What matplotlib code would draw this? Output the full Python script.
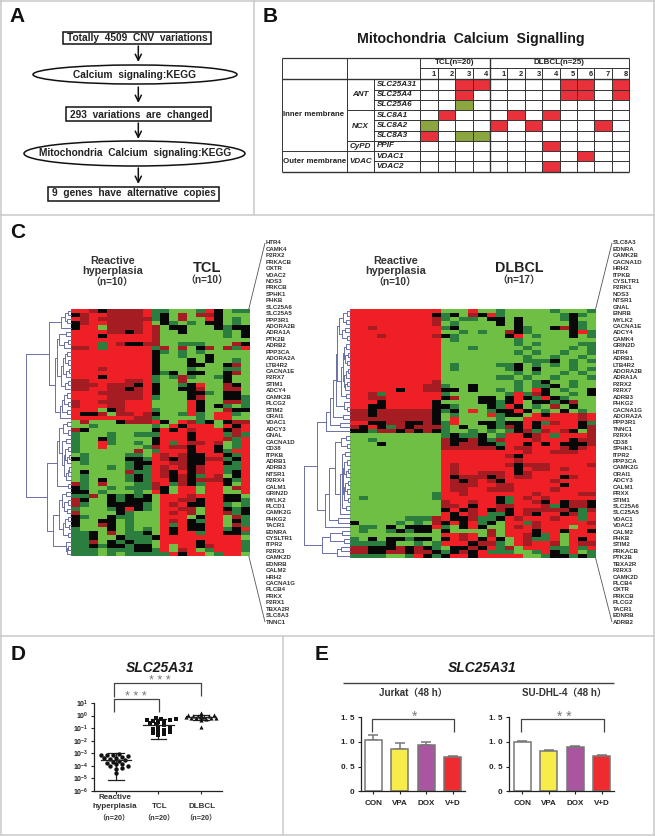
import matplotlib
matplotlib.use('Agg')
import matplotlib.pyplot as plt
import numpy as np
from matplotlib.colors import LinearSegmentedColormap, ListedColormap
from matplotlib.patches import Ellipse, Rectangle

plt.rcParams['font.family'] = ['Liberation Sans', 'Noto Sans CJK SC', 'DejaVu Sans']
plt.rcParams['mathtext.fontset'] = 'custom'
plt.rcParams['mathtext.bf'] = 'Liberation Sans:bold'
plt.rcParams['mathtext.rm'] = 'Liberation Sans:bold'

W, H = 655, 836

# ---------------- data ----------------
flow_steps = ['Totally  4509  CNV  variations', 'Calcium  signaling:KEGG', '293  variations  are  changed',
              'Mitochondria  Calcium  signaling:KEGG', '9  genes  have  alternative  copies']

genes_b = ['SLC25A31', 'SLC25A4', 'SLC25A6', 'SLC8A1', 'SLC8A2', 'SLC8A3', 'PPIF', 'VDAC1', 'VDAC2']
columns_b = ['1', '2', '3', '4', '1', '2', '3', '4', '5', '6', '7', '8']
cells_b = ['..RR....RR.R', '..R.....RR.R', '..G.........', '.R...R.R....', 'G...R.R...R.',
           'R.GG........', '.......R....', '.........R..', '.......R....']

tcl_genes = """HTR4 CAMK4 P2RX2 PRKACB OXTR VDAC2 NOS3 PRKCB SPHK1 PHKB SLC25A6 SLC25A5 PPP3R1 ADORA2B ADRA1A PTK2B ADRB2
PPP3CA ADORA2A LTB4R2 CACNA1E P2RX7 STIM1 ADCY4 CAMK2B PLCG2 STIM2 ORAI1 VDAC1 ADCY3 GNAL CACNA1D CD38 ITPKB ADRB1
ADRB3 NTSR1 P2RX4 CALM1 GRIN2D MYLK2 PLCD1 CAMK2G PHKG2 TACR1 EDNRA CYSLTR1 ITPR2 P2RX3 CAMK2D EDNRB CALM2 HRH2
CACNA1G PLCB4 PRKX P2RX1 TBXA2R SLC8A3 TNNC1""".split()
dlbcl_genes = """SLC8A3 EDNRA CAMK2B CACNA1D HRH2 ITPKB CYSLTR1 P2RK1 NOS3 NTSR1 GNAL EINRB MYLK2 CACNA1E ADCY4 CAMK4 GRIN2D HTR4
ADRB1 LTB4R2 ADORA2B ADRA1A P2RX2 P2RX7 ADRB3 PHKG2 CACNA1G ADORA2A PPP3R1 TNNC1 P2RX4 CD38 SPHK1 ITPR2 PPP3CA CAMK2G
ORAI1 ADCY3 CALM1 PRXX STIM1 SLC25A6 SLC25A5 VDAC1 VDAC2 CALM2 PHKB STIM2 PRKACB PTK2B TBXA2R P2RX3 CAMK2D PLCB4 OXTR
PRKCB PLCG2 TACR1 EDNRB ADRB2""".split()

tcl_rows = """RRrkrrrrR|ggGGGgRkGgg
krRRrrrrR|gkGrGrrkGGG
RrRrrrrrr|gkGrGGRkGgG
krRRrrrrR|GkgGgGkkGgG
kRRGrrrrR|rGkkGGGkgkk
RRRRrrkrR|rGGkGGGGgGk
RRRkRRRRR|rGGGGGGGgGk
RRRRRRRRR|rGGGGGGGGGG
RRRgRrkkr|rGGgggGGGrk
rrRgRRRRR|grGrGkrGrgR
RRRRRRRRR|kgGgGgGGGGG
RRRRRRRRR|kGGgGGkGGGG
RRRRRRRRR|kGGGkGkGGgG
RRRRRRRRR|kGGGkkGGkrG
RRRrRRRRR|kGGGgGGGggG
RRRRRRRRR|kgkGkkGGkrG
RRRkRRRRR|gGgrgGGgkGG
rrRRRRrrR|gGGrGGGGkGG
rrrRrrrkR|kGGgkRGGrkG
rrRRrrkrR|kGGkkrGGrrG
RRRrrrrrR|kGGGkkgGkkG
RRRRrrrrR|gGGGkrGGkkg
rRRrrrRRR|GGGGRkGGrrg
rRRRrrRRR|GGGGRkGkgGg
RRRGkrRRR|gGGGRkGGrkk
RkkrGrrRr|kGGgRgGRRgG
RRRRRRRrr|gGGGGgGRRGG
GrGGGkrrr|RkGRrgkGkrr
GGgGGGGGG|gGRkRRRGRkR
rkGGGGGGG|kRkRrRRRkrR
gGGGgGGgg|gRRRkRRRgrg
gGGkgGGGG|kRRRkRRRrgR
gGGRgGGgG|kRgRrrRrGgR
gGGRGGGGg|rRrrkRRkGgR
gGGGGGGrG|gRRRkRRkgRR
GgGGGGggG|RrRrkkRRkgR
kgGGGGkkg|RrkrkkrrgkR
GgGGGGgkk|RRrrkkRRkgR
GGGGgGgkg|RrRrkrRRggR
GkGGGGrgg|RrkRkrRRgkR
GgGGGGgkg|RrkrkgRrGkR
GgGkGGgkg|RRkrkrrrkgR
rgGrGGGgg|rRgrkgRRkGR
kgGGgGggg|rkGRRGRRGrR
kkGgGGGgG|RkGRRGRRGGR
ggrGkgkgk|GRRRrRRRkkG
rkGGkgkkk|GRRrrkRRkkg
rgGGkkkkg|GRrRkkRRgGg
gGGGgkRkg|GRRrrGRRkgk
rGGGGkgGG|GRrRrGRRrgk
kgGGkggGG|GRRRGkRRGrg
kGGkkGgGG|GRrRkgRRGkg
kGGrkGgGG|GRgRkkRRGrg
gGGGkGgGg|GRkRkkRRgkR
ggkGrGggk|GRkRRgRRkkg
ggkGGkggg|kRRRRRRRRRG
ggrGkgkgg|GRRRRkRRRRg
ggkgkkgkk|GRGRRkrRRRg
gggGgggkk|gRGrRGgRRRg
gggGgGggg|ggRkRRGgRRG""".split()

dlbcl_rows = """RRRRRRRRRR|GGGRGGgGGGGGgGGGg
RRRRRRRRRk|gkGrkRgGGGGGGgkgG
RRRRRRRRRr|gGggGkkGkGGGGgkGG
RRRRRRRRRr|GgGGGGkGkGGGGGkgG
RRrRRRRRRR|gkGGGGGGkgGGkrkgG
RRRRRRRRRR|GGgGgGGrkgGGGGkRg
RRRrRRRRRr|kgGGGGGkRGgGGGkGg
RRRRRRRRRR|GgGGGGGGgGGGGGGGG
RRRRRRRRRR|GGGGGGGGgGgGGGGgg
RRRRRRRRRR|GGGgGGGGGgGGGGgGg
RRRRRRRRRR|GGGGGGGGgGgGGgGGg
RRRRRRRRRR|GGGGGGGGGgGGgGGgG
RRRRRRRRRR|GGGGGGGGGgggkGgGg
RRRRRRRRRR|GgGGGGggkGgGgGgGG
RRRRRRRRRR|GgGGGGGgkGkGGGgGg
RRRRRRRRRR|GGGGGGGGgGgGGgGgG
RRRRRRRRRR|GGGGGGggGgGGgGGGg
RRRRRRRRRr|GGGGGGGGgGgkGGgGG
RRRRRRRRrr|gGGkGGGGgGggkGgGG
RRRRRkRRrr|kkGkGGgGgGRkGgGGk
RRrgRRRRRR|gGGGGGGgRgrkGGgGk
RRrrRRRRRR|krGGkkGkRkgRkgGGG
RRRkRRRRRk|GGGGkkgkRGkkgkrGG
RRkkRRRRRk|kgGGGkgRkGgGrGkGG
rrkrrrrrrk|gkGRGgkkRkGgGkGgG
rrkrrrrrrk|GgGGGRgkkGRkRRRrR
rrrrrrrrrk|GRGGGGgGGRRRRRRrR
RRkkrrkkrk|gRGGkkgkkRkgrRRkg
rkRkgrkrrr|gGkGGkgrkRkRRRRkr
kkgrrkrkrk|gGGgGgGgkrgrRrkGr
GGGGGGGGGG|gkggkGgRRkrRgRRRr
GGgGGGGGGG|rkkrkgrRRRrRRRkrr
GGGkGGGGGG|rkrrkkgRRkRkRkkkr
GGGGGGGGGG|rrrrrrkRrrRRRrkrR
GGGGGGGGGG|RRRRRRRRRrRRrrrRR
GGGGGGGGGG|RRRRRRRrkRRRRRRRR
GGGGGGGGGG|RRRRRRRRrRRRRRRRR
GGGGGGGGGG|RrRRRRRrkrrrRRRRr
GGGGGGGGGG|RrRRRRRRkRrrRrRRR
GGGGGGGGGG|RrRRrrrRkrRRRRRRR
GGGGGGGGGG|RkrrrkrRrrRRRkrRR
GGGGGGGGGG|RrkrRrkRRRRRrRRRR
GGGGGGGGGG|RrrrRRrrRRRRRkRRR
GGGGGGGGGG|RrrRRrrrRRRRrRRRR
GGGGGGGGGg|RRrRRRRRRRrRRRRrr
GgGGGGGGGg|RRRRRRkgRrRrRRRRR
GGGGGGGGGG|rRRrRRkgRRrkRkrrk
GGGGGGGGGG|rrRkRRrrRRRrgkrrk
GGGGGGGGGG|kRkrRkrkRrrrrrkgr
GGGGGGGGGG|RkRrRggkRrkRRkrgR
GGGGGGgggr|RkkrggkRrRRRrRRgR
kGGGGgGgGr|kRkRgkGRRgrRRRRRr
GggGkGkkkR|gGkRkGGRrRrRRRGRR
GgGGgkgkkG|kGGGGrGRRRkRRkRRk
GGGGGGGGGG|RRrRGrGRRrkgRGRRR
gGkGkkgkkG|kRrRkRkGRrggRGRkR
ggggkGGgGg|RRRkrrgGRrRRrGRrr
rrkkkrkrkg|GkkrkRgrGRRRggRgR
rrkkrrkrrk|gkrkRgggGGgRkgRGg
ggggGGgRkg|kRRkRRRRRGGgkkgkg""".split()

tcl_merge = [3, 6, 4, 10, 21.7, 5, 12, 3, 7, 14, 4, 6, 3, 8, 2, 5, 10, 3, 6, 16, 4, 7, 3, 9, 4, 11, 44.7,
             4, 8, 3, 12, 5, 9, 3, 6, 2, 4, 7, 2, 3, 5, 14, 3, 24, 5, 9, 3, 7, 4, 12, 3, 6, 2, 8, 3, 18, 5, 3, 4]
dlbcl_merge = [3, 7, 4, 11, 5, 8, 3, 13, 4, 6, 2, 5, 3, 7, 2, 4, 6, 3, 5, 9, 4, 14, 6, 3, 17, 7, 20, 10, 24, 33,
               4, 9, 3, 15, 5, 8, 3, 6, 2, 4, 7, 2, 5, 3, 6, 2, 8, 4, 10, 21, 12, 25, 46, 8, 20, 6, 28, 9, 13]

d_cats = ['Reactive\nhyperplasia\n（n=20）', 'TCL\n（n=20）', 'DLBCL\n（n=20）']
d_reactive = [9e-4, 8e-4, 7.5e-4, 7e-4, 6e-4, 5.5e-4, 4.5e-4, 4e-4, 3.5e-4, 3e-4, 2.5e-4, 2e-4, 1.8e-4, 1.5e-4,
              1.3e-4, 1e-4, 9e-5, 7e-5, 6e-5, 2.5e-5]
d_tcl = [.6, .55, .5, .45, .42, .4, .35, .3, .25, .2, .17, .12, .1, .08, .07, .06, .05, .04, .035, .03]
d_dlbcl = [1.5, 1.2, 1.1, 1, .95, .9, .9, .85, .85, .8, .8, .75, .75, .7, .7, .65, .6, .55, .45, .12]
d_center = [3e-4, .18, .8]
d_low = [8e-6, .014, .45]
d_high = [1e-3, .55, 1.2]

e_cats = ['CON', 'VPA', 'DOX', 'V+D']
e_colors = ['#FFFFFF', '#F8EC4A', '#A9559F', '#EE2B2F']
jurkat_mean = [1.03, .85, .93, .70]
jurkat_err = [.11, .13, .06, .02]
sudhl_mean = [1.0, .81, .90, .71]
sudhl_err = [.02, .02, .02, .03]

# ---------------- helpers ----------------
fig = plt.figure(figsize=(W / 100, H / 100), dpi=100)


def axpx(x0, y0, x1, y1, **k):
    return fig.add_axes([x0 / W, 1 - y1 / H, (x1 - x0) / W, (y1 - y0) / H], **k)


ov = axpx(0, 0, W, H, zorder=10)
ov.set_xlim(0, W)
ov.set_ylim(H, 0)
ov.axis('off')
ov.patch.set_alpha(0)
TXT = '#222222'


def T(x, y, s, size=6, ha='center', color=TXT, weight='bold', style='normal'):
    ov.text(x, y, s, fontsize=size, ha=ha, va='center', color=color, fontweight=weight, fontstyle=style)


def L(x, y, color='#333333', lw=.7):
    ov.plot(x, y, color=color, lw=lw, solid_capstyle='butt', clip_on=False)


# frames
for xs, ys in [([0, W], [.5, .5]), ([0, W], [215, 215]), ([254, 254], [0, 215]), ([654, 654], [0, 835]),
               ([.7, .7], [0, 835]), ([0, W], [636, 636]), ([0, W], [835, 835]), ([283, 283], [636, 835])]:
    L(xs, ys, color='#c9c9c9', lw=1.1)

for x, y, s in [(17, 16, 'A'), (270, 16, 'B'), (18, 233, 'C'), (18, 655, 'D'), (322, 655, 'E')]:
    ov.text(x, y, s, fontsize=15, fontweight='bold', ha='center', va='center', color='#111111',
            family='Liberation Sans')

# ---------- panel A ----------
a_boxes = [(63, 32, 211, 43.5), None, (66, 106.5, 211, 121), None, (48, 186.5, 219, 201)]
a_ell = [None, (135, 74.5, 204, 19), None, (134.5, 153.5, 221, 25), None]
a_y = [37.8, 74.5, 115, 153.5, 193.5]
a_x = [137.5, 134.5, 139, 135, 134]
for i, s in enumerate(flow_steps):
    if a_boxes[i]:
        b = a_boxes[i]
        ov.add_patch(Rectangle((b[0], b[1]), b[2] - b[0], b[3] - b[1], fc='white', ec='#111111', lw=1.1))
    else:
        e = a_ell[i]
        ov.add_patch(Ellipse((e[0], e[1]), e[2], e[3], fc='white', ec='#111111', lw=1.1))
    T(a_x[i], a_y[i], s, size=7.3, color='#222222')
for y0, y1 in [(46, 62), (87, 103), (123, 139), (168, 184)]:
    ov.annotate('', xy=(138.3, y1), xytext=(138.3, y0),
                arrowprops=dict(arrowstyle='->', color='#111111', lw=1.1, mutation_scale=11, shrinkA=0, shrinkB=0))

# ---------- panel B ----------
T(471, 39, 'Mitochondria  Calcium  Signalling', size=10.2, color='#1a1a1a')
bx0, bx1, bx2, bx3 = 281.7, 346.7, 374, 420.3
cw = 17.4
bxr = bx3 + 12 * cw
by0, by1, by2 = 58.3, 67.7, 79.3
rh = 10.26
nr = len(genes_b)
tbl = axpx(bx3, by2, bxr, by2 + nr * rh)
code = np.array([[{'.': 0, 'R': 1, 'G': 2}[c] for c in r] for r in cells_b])
tbl.pcolormesh(np.arange(13), np.arange(nr + 1), code, cmap=ListedColormap(['#FFFFFF', '#E8313B', '#8BA63E']),
               vmin=0, vmax=2)
tbl.set_ylim(nr, 0)
tbl.axis('off')
ybot = by2 + nr * rh
L([bx0, bxr], [by0, by0], lw=.9)
L([bx3, bxr], [by1, by1])
L([bx0, bxr], [by2, by2], lw=1)
L([bx0, bxr], [ybot, ybot], lw=1)
for i in range(1, nr):
    y = by2 + i * rh
    x0 = bx2
    if i in (3, 6):
        x0 = bx1
    if i == 7:
        x0 = bx0
    L([x0, bxr], [y, y])
L([bx0, bx0], [by0, ybot])
L([bx1, bx1], [by0, ybot])
L([bx2, bx2], [by2, ybot])
L([bx3, bx3], [by0, ybot])
L([bxr, bxr], [by0, ybot])
for j in range(1, 12):
    x = bx3 + j * cw
    L([x, x], [by0 if j == 4 else by1, ybot], lw=1 if j == 4 else .7)
T(455, 63, 'TCL(n=20)', size=5.8)
T(559, 63, 'DLBCL(n=25)', size=5.8)
for j, s in enumerate(columns_b):
    T(bx3 + (j + 1) * cw - 1.5, 74, s, size=5.4, ha='right')
for i, g in enumerate(genes_b):
    T(376.5, by2 + (i + .5) * rh, g, size=5.9, ha='left', style='italic')
for y, s in [(95, 'ANT'), (126, 'NCX'), (146.5, 'CyPD'), (161.5, 'VDAC')]:
    T(360.2, y, s, size=5.8, style='italic')
T(282.7, 115, 'Inner membrane', size=5.7, ha='left')
T(282.7, 161.5, 'Outer membrane', size=5.7, ha='left')

# ---------- panel C ----------
cmap = LinearSegmentedColormap.from_list('gkr', ['#70BF45', '#2C7F3E', '#080808', '#A51D23', '#EE2026'])
LEV = {'G': -2, 'g': -1, 'k': 0, 'r': 1, 'R': 2}


def decode(rows, ncol):
    out = []
    for r in rows:
        r = r.replace('|', '')
        r = r[:ncol].ljust(ncol, r[-1])
        out.append([LEV[c] for c in r])
    return np.array(out)


def dendro(ax, merge, lo, hi):
    if lo == hi:
        return lo, 0.0
    seg = merge[lo:hi]
    k = lo + int(np.argmax(seg))
    h = merge[k]
    y1, x1 = dendro(ax, merge, lo, k)
    y2, x2 = dendro(ax, merge, k + 1, hi)
    ax.plot([x1, h, h, x2], [y1, y1, y2, y2], color='#6A6FA6', lw=.7, clip_on=False)
    return (y1 + y2) / 2, h


def heat(rows, ncol, merge, genes, x0, y0, x1, y1, lblx, lblstep, lbl0):
    ax = axpx(x0, y0, x1, y1)
    ax.imshow(decode(rows, ncol), aspect='auto', cmap=cmap, vmin=-2, vmax=2, interpolation='nearest')
    ax.axis('off')
    d = axpx(x0 - max(merge), y0, x0, y1)
    d.set_xlim(max(merge), 0)
    d.set_ylim(len(rows) - .5, -.5)
    d.axis('off')
    ymid, h = dendro(d, merge, 0, len(rows) - 1)
    for i, g in enumerate(genes):
        T(lblx, lbl0 + i * lblstep, g, size=4.4, ha='left', color='#333333')
    yl = lbl0 + (len(genes) - 1) * lblstep
    L([x1 - .5, lblx - 1], [y0, lbl0], color='#555555', lw=.6)
    L([x1 - .5, lblx - 1], [y1, yl], color='#555555', lw=.6)


heat(tcl_rows, 20, tcl_merge, tcl_genes, 70.7, 309, 249.3, 556, 266, 6.425, 243)
heat(dlbcl_rows, 27, dlbcl_merge, dlbcl_genes, 350, 309.3, 596, 557.7, 613, 6.425, 243)

for xc in (113, 396):
    T(xc, 261.5, 'Reactive', size=7.8, color='#333333')
    T(xc, 271, 'hyperplasia', size=7.8, color='#333333')
    T(xc - 1, 281.5, '（n=10）', size=7.2, color='#333333')
T(207, 267.5, 'TCL', size=10.5, color='#222222')
T(207, 279.5, '（n=10）', size=7.2, color='#333333')
T(519, 268, 'DLBCL', size=10.3, color='#222222')
T(519, 279.5, '（n=17）', size=7.2, color='#333333')


# ---------- panel D ----------
dx = axpx(94.3, 703, 221.7, 791)
dx.set_yscale('log')
dx.set_ylim(1e-6, 10)
dx.set_xlim(-.51, 2.487)
px_per_dec = 88 / 7
px_per_cat = 42.5


def swarm(vals, dia):
    ys = np.log10(vals) * px_per_dec
    order = np.argsort(ys)
    placed, off = [], np.zeros(len(ys))
    for i in order:
        for c in range(0, 15):
            cand = ((c + 1) // 2) * (1 if c % 2 else -1) * dia * .8
            if all((cand - px) ** 2 + (ys[i] - py) ** 2 >= dia ** 2 for px, py in placed):
                off[i] = cand
                placed.append((cand, ys[i]))
                break
    return off / px_per_cat


for i, (vals, mk, ms) in enumerate([(d_reactive, 'o', 10), (d_tcl, 's', 10), (d_dlbcl, '^', 9)]):
    dx.scatter(i + swarm(vals, (3.8, 3.6, 3.2)[i]), vals, marker=mk, s=ms, color='#111111', lw=0, zorder=3,
               clip_on=False)
    dx.plot([i - .36, i + .36], [d_center[i]] * 2, color='#222222', lw=.9, zorder=4)
    dx.plot([i, i], [d_low[i], d_high[i]], color='#222222', lw=.9, zorder=2)
    dx.plot([i - .18, i + .18], [d_low[i]] * 2, color='#222222', lw=.9, zorder=2)
    dx.plot([i - .18, i + .18], [d_high[i]] * 2, color='#222222', lw=.9, zorder=2)
dx.spines['top'].set_visible(False)
dx.spines['right'].set_visible(False)
dx.set_xticks([0, 1, 2])
dx.set_xticklabels([])
dx.set_yticks([10.0 ** e for e in range(-6, 2)])
dx.set_yticklabels([r'$\mathbf{10^{%d}}$' % e for e in range(-6, 2)], fontsize=5.0, color='#222222')
dx.minorticks_off()
dx.tick_params(length=2.5, width=.8, pad=1.5, color='#222222')
for sp in ('left', 'bottom'):
    dx.spines[sp].set_linewidth(.9)
    dx.spines[sp].set_color('#222222')

T(160, 668, 'SLC25A31', size=10, style='italic', color='#1a1a1a')
L([114.3, 114.3, 159.3, 159.3], [711.5, 698.7, 698.7, 711.5], color='#444444', lw=.9)
L([114.3, 114.3, 201.3, 201.3], [697, 682.7, 682.7, 695.7], color='#444444', lw=.9)
T(136, 697, '* * *', size=9, color='#777777', weight='normal')
T(160, 681.5, '* * *', size=9, color='#777777', weight='normal')
for xc, lab in zip((115, 160, 202), d_cats):
    parts = lab.split('\n')
    if len(parts) == 3:
        T(xc, 797.3, parts[0], size=5.8, color='#333333')
        T(xc, 807, parts[1], size=5.8, color='#333333')
    else:
        T(xc, 806, parts[0], size=5.8, color='#333333')
    T(xc - 1, 817.5, parts[-1], size=5.2, color='#333333')


# ---------- panel E ----------
def bars(x0, x1, c0, means, errs):
    ax = axpx(x0, 717.3, x1, 791.3)
    step = 26.4
    ax.set_xlim((x0 - c0) / step, (x1 - c0) / step)
    ax.set_ylim(0, 1.5)
    ax.bar(range(4), means, width=.64, color=e_colors, edgecolor='#777777', lw=1.1, zorder=2)
    ax.errorbar(range(4), means, yerr=[[0] * 4, errs], fmt='none', ecolor='#777777', elinewidth=1.1, capsize=3.5,
                capthick=1.1, zorder=1)
    ax.spines['top'].set_visible(False)
    ax.spines['right'].set_visible(False)
    for sp in ('left', 'bottom'):
        ax.spines[sp].set_linewidth(.9)
        ax.spines[sp].set_color('#222222')
    ax.set_yticks([0, .5, 1, 1.5])
    ax.set_yticklabels(['0', '0. 5', '1. 0', '1. 5'], fontsize=5.8, fontweight='bold', color='#222222')
    ax.set_xticks(range(4))
    ax.set_xticklabels(e_cats, fontsize=5.8, fontweight='bold', color='#222222')
    ax.tick_params(length=2.5, width=.8, pad=4, color='#222222')
    ax.tick_params(axis='y', pad=2)
    return ax


bars(360.7, 465, 373.3, jurkat_mean, jurkat_err)
bars(509, 614, 522.3, sudhl_mean, sudhl_err)
T(482.7, 668, 'SLC25A31', size=10, style='italic', color='#1a1a1a')
L([342.7, 614], [682.7, 682.7], color='#444444', lw=1)
T(413, 692.7, 'Jurkat（48 h）', size=7, color='#333333')
T(564, 692.7, 'SU-DHL-4（48 h）', size=7, color='#333333')
L([371.7, 371.7, 453.5, 453.5], [731.5, 719.3, 719.3, 732], color='#444444', lw=.9)
L([521, 521, 603.5, 603.5], [732, 719.3, 719.3, 732], color='#444444', lw=.9)
T(415, 717, '*', size=10, color='#777777', weight='normal')
T(564, 717, '* *', size=10, color='#777777', weight='normal')

fig.savefig('out.png', dpi=100)
